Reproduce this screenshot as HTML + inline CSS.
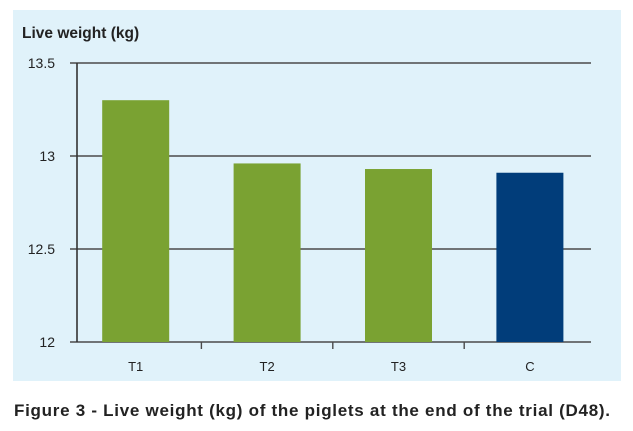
<!DOCTYPE html>
<html><head><meta charset="utf-8"><style>
html,body{margin:0;padding:0;background:#fff;width:633px;height:431px;overflow:hidden}
svg{display:block;font-family:"Liberation Sans",sans-serif}
</style></head><body>
<svg width="633" height="431">
<rect x="13" y="10" width="608" height="371" fill="#e0f2fa"/>
<text x="22" y="38" font-size="15.5" font-weight="bold" fill="#222">Live weight (kg)</text>
<g id="grid"></g><g id="bars"></g><g id="axes"></g>
<text x="14" y="416" font-size="17" font-weight="bold" fill="#222" textLength="596">Figure 3 - Live weight (kg) of the piglets at the end of the trial (D48).</text>
</svg>
<script>
const categories=["T1","T2","T3","C"];
const values=[13.30,12.96,12.93,12.91];
const colors=["#7aa232","#7aa232","#7aa232","#013d7a"];
const yTicks=[12,12.5,13,13.5];
const yTickLabels=["12","12.5","13","13.5"];
const NS="http://www.w3.org/2000/svg";
const yMin=12,yMax=13.5,yTop=63,yBot=342;
const x0=70,band=131.4,barW=67;
function y(v){return yBot-(v-yMin)/(yMax-yMin)*(yBot-yTop);}
function xc(i){return x0+band*(i+0.5);}
function mk(tag,attrs,parent){const e=document.createElementNS(NS,tag);for(const k in attrs)e.setAttribute(k,attrs[k]);parent.appendChild(e);return e;}
const grid=document.getElementById('grid'),bars=document.getElementById('bars'),axes=document.getElementById('axes');
yTicks.forEach((t,i)=>{
 const l=mk('line',{x1:70,x2:591,y1:y(t),y2:y(t),stroke:'#4a4a4a','stroke-width':1.6},grid);
 
 
 const tx=mk('text',{x:55,y:y(t)+5,'font-size':14,'text-anchor':'end',fill:'#222'},axes);
 tx.textContent=yTickLabels[i];
 
 
});
categories.forEach((c,i)=>{
 const r=mk('rect',{x:xc(i)-barW/2,y:y(values[i]),width:barW,height:yBot-y(values[i]),fill:colors[i]},bars);
 
 
 const tx=mk('text',{x:xc(i),y:371,'font-size':13,'text-anchor':'middle',fill:'#222'},axes);
 tx.textContent=c;
 
 
 if(i>0){const tk=mk('line',{x1:x0+band*i,x2:x0+band*i,y1:yBot,y2:yBot+7,stroke:'#4a4a4a','stroke-width':1.4},axes);
 
 }
});
const ya=mk('line',{x1:77,x2:77,y1:yTop,y2:yBot,stroke:'#333','stroke-width':1.6},axes);


</script>
</body></html>
